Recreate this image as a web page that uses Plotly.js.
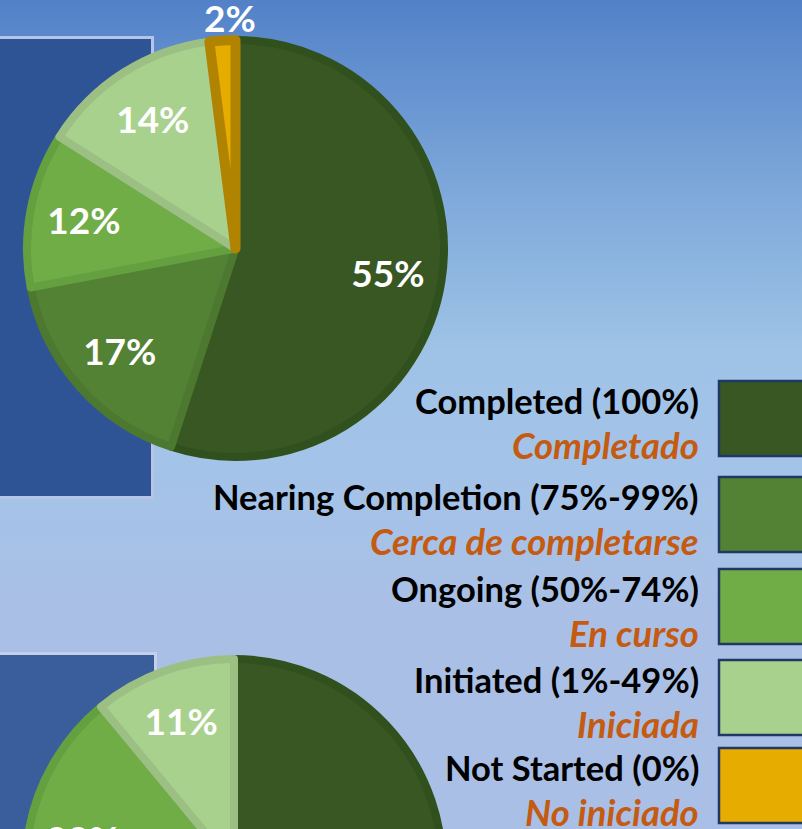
<!DOCTYPE html>
<html>
<head>
<meta charset="utf-8">
<script src="https://cdn.plot.ly/plotly-3.0.1.min.js"></script>
<style>
  html, body { margin: 0; padding: 0; overflow: hidden; }
  #wrap {
    width: 802px; height: 829px; overflow: hidden; position: relative;
    background: linear-gradient(to bottom, #5281C8 0px, #80AADB 200px, #9EC3E6 350px, #A4C3E8 470px, #AABFE6 620px, #A9BFE6 829px);
  }
  #chart { width: 802px; height: 1100px; }
</style>
</head>
<body>
<div id="wrap"><div id="chart"></div></div>
<script>
// ---- data ----
const categories = ["Completed (100%)", "Nearing Completion (75%-99%)", "Ongoing (50%-74%)", "Initiated (1%-49%)", "Not Started (0%)"];
const categoriesEs = ["Completado", "Cerca de completarse", "En curso", "Iniciada", "No iniciado"];
const topValues = [55, 17, 12, 14, 2];
const bottomValues = [52, 15, 22, 11, 0];

// ---- styles ----
const fillColors = ["#385723", "#548235", "#70AD47", "#A9D18E", "#E6AC00"];
const edgeColors = ["#30501E", "#4C7830", "#64A03F", "#9CC084", "#B08400"];
const edgeWidths = [8, 8, 8, 8, 10];

const W = 802, H = 1100;
function px(x) { return x / W; }
function py(y) { return 1 - y / H; }
function domainOf(cx, cy, r) {
  return { x: [px(cx - r), px(cx + r)], y: [py(cy + r), py(cy - r)] };
}
const labelFont = { family: "Lato", size: 37, color: "#FFFFFF", weight: 700 };

// filled slices (no text)
function pieFill(values, cx, cy, r) {
  return {
    type: "pie", labels: categories, values: values, sort: false,
    direction: "clockwise", rotation: 0, domain: domainOf(cx, cy, r),
    marker: { colors: fillColors, line: { color: edgeColors, width: values.map((v, i) => v > 0 ? edgeWidths[i] : 0) } },
    textinfo: "none", hoverinfo: "none", showlegend: false
  };
}
// transparent ring carrying the percentage labels of the large slices
function pieText(values, cx, cy, r) {
  return {
    type: "pie", labels: categories, values: values, sort: false,
    direction: "clockwise", rotation: 0, domain: domainOf(cx, cy, r), hole: 0.48,
    marker: { colors: categories.map(() => "rgba(0,0,0,0)"), line: { width: 0 } },
    texttemplate: "%{value}%",
    textposition: values.map(v => v >= 5 ? "inside" : "none"),
    insidetextorientation: "horizontal",
    textfont: labelFont,
    hoverinfo: "none", showlegend: false
  };
}
// labels of tiny slices sit just above the rim, centred on the slice
function outsideLabels(values, cx, cy, r) {
  const total = values.reduce((a, b) => a + b, 0);
  const out = [];
  let acc = 0;
  values.forEach(v => {
    const mid = (acc + v / 2) / total * 2 * Math.PI;
    acc += v;
    if (v > 0 && v < 5) {
      out.push({ xref: "x", yref: "y", x: cx + (r + 6) * Math.sin(mid) + 8, y: cy - (r - 2) * Math.cos(mid),
        xanchor: "center", yanchor: "bottom", text: v + "%", showarrow: false, font: labelFont });
    }
  });
  return out;
}

const PIES = [
  { values: topValues, cx: 235.5, cy: 248.5, r: 208.5 },
  { values: bottomValues, cx: 234, cy: 867.5, r: 208.5 }
];
const traces = PIES.map(p => pieFill(p.values, p.cx, p.cy, p.r))
  .concat(PIES.map(p => pieText(p.values, p.cx, p.cy, p.r)));

const shapes = [
  { type: "rect", xref: "x", yref: "y", x0: -10, x1: 152.5, y0: 37.5, y1: 497.5,
    fillcolor: "#2F5496", line: { color: "#B4C5E7", width: 3 }, layer: "below" },
  { type: "rect", xref: "x", yref: "y", x0: -10, x1: 155.5, y0: 653.5, y1: 1000,
    fillcolor: "#3A5D9C", line: { color: "#C5CFEA", width: 3 }, layer: "below" }
];
const boxTops = [381, 477, 569, 660, 748];
const boxH = 75;
let annotations = [];
PIES.forEach(p => { annotations = annotations.concat(outsideLabels(p.values, p.cx, p.cy, p.r)); });
categories.forEach((c, i) => {
  shapes.push({ type: "rect", xref: "x", yref: "y", x0: 719, x1: 830, y0: boxTops[i], y1: boxTops[i] + boxH,
    fillcolor: fillColors[i], line: { color: "#1F3864", width: 2.5 } });
  annotations.push({ xref: "x", yref: "y", x: 701, y: boxTops[i] + 19, xanchor: "right", yanchor: "middle",
    text: c, showarrow: false, font: { family: "Lato", size: 34.5, color: "#000000", weight: 700 } });
  annotations.push({ xref: "x", yref: "y", x: 701, y: boxTops[i] + 64, xanchor: "right", yanchor: "middle",
    text: "<i>" + categoriesEs[i] + "</i>", showarrow: false,
    font: { family: "Lato", size: 36.5, color: "#C55A11", weight: 700, style: "italic" } });
});

const layout = {
  width: W, height: H,
  margin: { l: 0, r: 0, t: 0, b: 0 },
  paper_bgcolor: "rgba(0,0,0,0)",
  plot_bgcolor: "rgba(0,0,0,0)",
  xaxis: { range: [0, W], visible: false, fixedrange: true },
  yaxis: { range: [H, 0], visible: false, fixedrange: true },
  shapes: shapes,
  annotations: annotations,
  showlegend: false
};

Plotly.newPlot("chart", traces, layout, { staticPlot: true, displayModeBar: false });
</script>
</body>
</html>
